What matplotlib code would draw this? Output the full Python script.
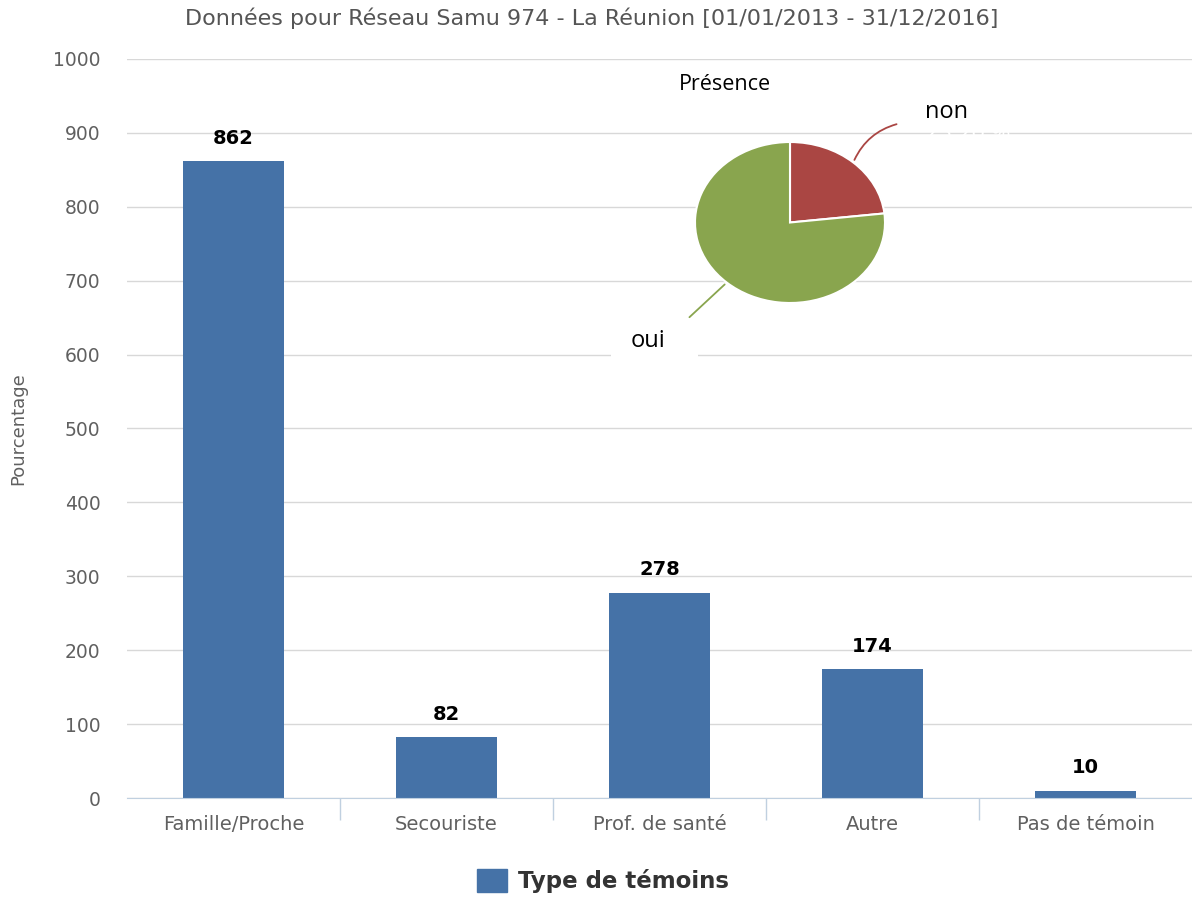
import numpy as np
import matplotlib.pyplot as plt
from matplotlib.patches import Patch

categories = ["Famille/Proche", "Secouriste", "Prof. de santé", "Autre", "Pas de témoin"]
counts = [862, 82, 278, 174, 10]
pie_labels = ["non", "oui"]
pie_values = [23.2, 76.8]

title = "Données pour Réseau Samu 974 - La Réunion [01/01/2013 - 31/12/2016]"

BAR = "#4572A7"
PIE_COLORS = ["#AA4643", "#89A54E"]
GRID = "#D8D8D8"
AXIS = "#C0D0E0"
TXT = "#606060"

plt.rcParams['font.family'] = ['DejaVu Sans']

fig = plt.figure(figsize=(11.92, 8.97), dpi=100)
ax = fig.add_axes([127 / 1192, 1 - 798 / 897, 1 - 127 / 1192, (798 - 59) / 897])

x = np.arange(len(categories))
bars = ax.bar(x, counts, width=0.475, color=BAR, zorder=3)
for xi, v in zip(x, counts):
    ax.text(xi, v + 18, str(v), ha='center', va='bottom', fontsize=14,
            fontweight='bold', color='black', zorder=4)

ax.set_xlim(-0.5, len(categories) - 0.5)
ax.set_ylim(0, 1000)
ax.set_yticks(np.arange(0, 1001, 100))
ax.tick_params(axis='y', length=0, pad=19, labelsize=13.5, labelcolor=TXT)
ax.grid(axis='y', color=GRID, linewidth=1, zorder=0)
ax.set_xticks(x)
ax.set_xticklabels(categories)
ax.tick_params(axis='x', length=0, pad=12, labelsize=14, labelcolor=TXT)
ax.set_xticks(np.arange(0.5, len(categories) - 1, 1), minor=True)
ax.tick_params(axis='x', which='minor', length=16, color=AXIS, width=1)
for s in ['top', 'right', 'left']:
    ax.spines[s].set_visible(False)
ax.spines['bottom'].set_color(AXIS)
ax.spines['bottom'].set_zorder(5)
ax.set_ylabel("Pourcentage", fontsize=13, color=TXT)
ax.yaxis.set_label_coords(-0.094, 0.5)

fig.text(592 / 1192, 1 - 18 / 897, title, ha='center', va='center', fontsize=16, color="#555555")

leg = fig.legend(handles=[Patch(color=BAR, label="Type de témoins")], loc='center',
                 bbox_to_anchor=(603 / 1192, 1 - 881 / 897), frameon=False,
                 prop={'weight': 'bold', 'size': 16.5}, handlelength=1.3, handleheight=1.2,
                 handletextpad=0.5)
for t in leg.get_texts():
    t.set_color('#333333')

# pie inset
pax = fig.add_axes([695 / 1192, 1 - 303 / 897, 190 / 1192, 161 / 897])
wedges, _ = pax.pie(pie_values, colors=PIE_COLORS, startangle=90, counterclock=False,
                    wedgeprops=dict(edgecolor='white', linewidth=1.5))
pax.set_aspect('auto')
pax.set_xlim(-1, 1)
pax.set_ylim(-1, 1)
pax.set_zorder(6)
pax.patch.set_alpha(0)

for w, lab, col, pct in zip(wedges, pie_labels, PIE_COLORS, pie_values):
    ang = np.deg2rad((w.theta1 + w.theta2) / 2)
    px, py = np.cos(ang), np.sin(ang)
    if px > 0:
        tx, ty = 1.15, 1.23
        pax.annotate("", xy=(px, py), xytext=(tx, ty),
                     arrowprops=dict(arrowstyle='-', color=col, lw=1.3,
                                     connectionstyle="arc3,rad=0.25"), annotation_clip=False)
        pax.text(1.42, 1.22, lab, fontsize=17, family='Open Sans', ha='left', va='bottom',
                 clip_on=False)
        pax.text(1.42, 1.1, f"{pct:.2f} %", fontsize=17, family='Open Sans', ha='left',
                 va='center', color='white', clip_on=False)
    else:
        tx, ty = -1.08, -1.2
        pax.annotate("", xy=(px, py), xytext=(tx, ty),
                     arrowprops=dict(arrowstyle='-', color=col, lw=1.3,
                                     connectionstyle="arc3,rad=0.0"), annotation_clip=False)
        pax.text(-1.68, -1.55, lab, fontsize=17, family='Open Sans', ha='left', va='baseline',
                 clip_on=False)
        pax.text(-1.87, -1.74, f"{pct:.2f} %    ", fontsize=13, family='Open Sans', ha='left',
                 va='center', color='white', clip_on=False,
                 bbox=dict(facecolor='white', edgecolor='none', pad=1))

pax.text(-0.68, 1.71, "Présence", fontsize=15.5, family='Open Sans', ha='center', va='center',
         clip_on=False)

fig.savefig("out.png", dpi=100)
